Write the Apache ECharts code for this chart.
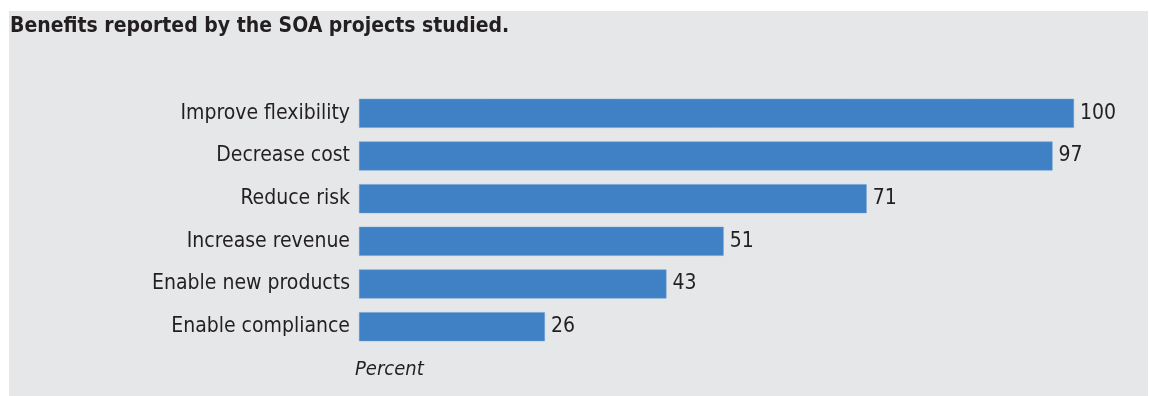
<!DOCTYPE html>
<html>
<head>
<meta charset="utf-8">
<script src="https://cdn.jsdelivr.net/npm/echarts@6/dist/echarts.min.js"></script>
<style>
  html, body { margin: 0; padding: 0; background: #fff; }
  #chart { width: 1149px; height: 396px; }
</style>
</head>
<body>
<div id="chart"></div>
<script>
// benefits, top to bottom as shown
const benefits = ['Improve flexibility', 'Decrease cost', 'Reduce risk', 'Increase revenue', 'Enable new products', 'Enable compliance'];
const percents = [100, 97, 71, 51, 43, 26];

const FONT = '"DejaVu Sans Condensed", "Liberation Sans Narrow", sans-serif';
const INK = '#231f20';

const chart = echarts.init(document.getElementById('chart'));

chart.setOption({
  backgroundColor: '#ffffff',
  animation: false,
  graphic: [
    {
      type: 'rect',
      z: -10,
      shape: { x: 9, y: 11, width: 1139, height: 385 },
      style: { fill: '#e6e7e8' }
    },
    {
      type: 'text',
      left: 355,
      top: 360,
      style: { text: 'Percent', font: 'italic 20px ' + FONT, fill: INK }
    }
  ],
  title: {
    text: 'Benefits reported by the SOA projects studied.',
    left: 5,
    top: 11,
    textStyle: { fontFamily: FONT, fontWeight: 'bold', fontSize: 21, color: INK }
  },
  grid: { left: 359, top: 92, width: 715, height: 256, containLabel: false },
  xAxis: {
    type: 'value',
    min: 0,
    max: 100,
    show: false
  },
  yAxis: {
    type: 'category',
    data: benefits,
    inverse: true,
    axisLine: { show: false },
    axisTick: { show: false },
    splitLine: { show: false },
    axisLabel: { fontFamily: FONT, fontSize: 21, color: INK, margin: 9 }
  },
  series: [{
    type: 'bar',
    data: percents,
    barWidth: 29,
    itemStyle: { color: '#4080c4', borderColor: '#6a9fd4', borderWidth: 0.5 },
    label: {
      show: true,
      position: 'right',
      distance: 6,
      fontFamily: FONT,
      fontSize: 21,
      color: INK
    }
  }]
});
</script>
</body>
</html>
